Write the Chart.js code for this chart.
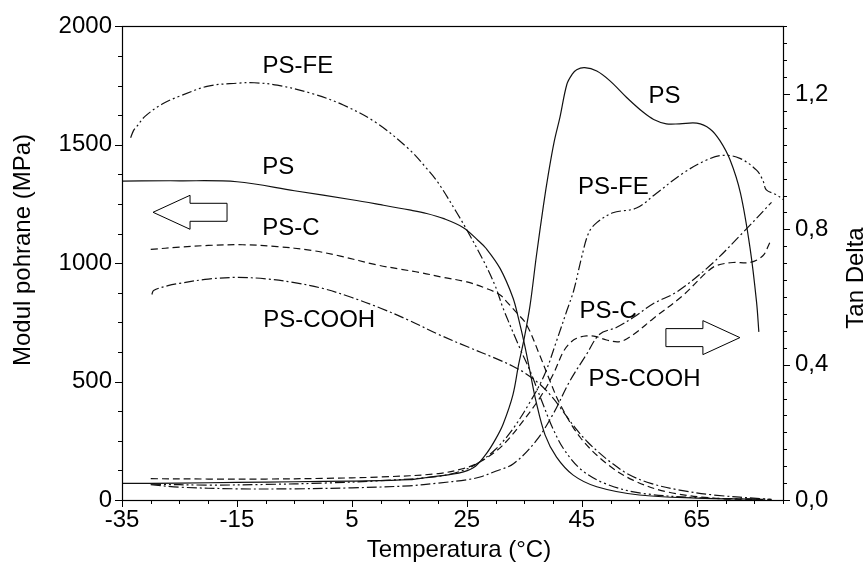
<!DOCTYPE html>
<html>
<head>
<meta charset="utf-8">
<script src="https://cdn.jsdelivr.net/npm/chart.js@4.4.1/dist/chart.umd.min.js"></script>
<style>
  html, body { margin: 0; padding: 0; background: #fff; }
  #wrap { width: 868px; height: 563px; }
</style>
</head>
<body>
<div id="wrap"><canvas id="chart" width="868" height="563"></canvas></div>
<script>
// storage modulus, left axis (MPa)
var psModT    = [-35, -25, -15, -5, 5, 10, 15, 18, 21, 24.4, 27, 28.4, 30.8, 33, 34, 35, 36, 37, 38.6, 40.6, 43.5, 47.6, 55, 65, 75.8];
var psModE    = [1347, 1348, 1344, 1306, 1268, 1247, 1225, 1210, 1188, 1150, 1095, 1061, 977, 855, 765, 660, 540, 420, 275, 181, 105, 56, 21, 8, 3];
var psfeModT  = [-33.5, -33, -32.5, -31, -28, -25, -20, -15, -12, -8, -2, 3.5, 9.3, 15, 18, 20, 23.2, 25, 28, 30, 31.3, 34.2, 36, 38, 40, 42, 45, 49, 55, 65, 78];
var psfeModE  = [1530, 1560, 1575, 1620, 1672, 1705, 1748, 1760, 1762, 1752, 1717, 1668, 1592, 1480, 1400, 1340, 1215, 1140, 1005, 900, 810, 642, 545, 420, 300, 210, 126, 70, 30, 10, 3];
var pscModT   = [-30, -25, -20, -14, -8, -2, 3, 9.3, 13.4, 17, 20.9, 25, 28.4, 30.8, 31.9, 33.7, 35.4, 37.7, 39.5, 41.2, 44.7, 49.3, 53.9, 59.7, 68.4, 78];
var pscModE   = [1058, 1068, 1075, 1078, 1070, 1054, 1030, 993, 975, 960, 940, 921, 893, 866, 838, 790, 740, 610, 500, 405, 265, 154, 84, 35, 7, 2];
var pscoohModT = [-29.8, -29.5, -27, -25, -20, -15, -10, -5, 0, 5, 10, 15, 20, 25, 30, 33, 35, 37.7, 40, 42, 44, 46, 48, 50, 53, 57, 62, 68, 77];
var pscoohModE = [868, 885, 905, 915, 933, 940, 934, 918, 893, 855, 810, 758, 700, 648, 598, 565, 538, 489, 430, 365, 300, 245, 200, 160, 110, 70, 42, 21, 4];

// tan delta, right axis
var psTanT    = [-35, -25, -15, -5, 5, 15, 18.6, 22, 24.4, 26.5, 28.4, 30, 31.3, 33, 34, 35, 36, 37.1, 38.3, 39.2, 40.2, 41.2, 42.4, 43.3, 44.1, 45.5, 47.6, 49.9, 52.8, 55.7, 57.5, 59.7, 62, 65, 67.3, 69, 70.8, 72.6, 74.3, 75.4, 75.8];
var psTanV    = [0.049, 0.05, 0.052, 0.054, 0.056, 0.06, 0.068, 0.075, 0.083, 0.1, 0.137, 0.18, 0.224, 0.31, 0.4, 0.48, 0.576, 0.722, 0.868, 0.966, 1.06, 1.132, 1.229, 1.258, 1.272, 1.278, 1.268, 1.239, 1.19, 1.146, 1.125, 1.112, 1.112, 1.114, 1.097, 1.063, 1.005, 0.907, 0.741, 0.585, 0.497];
var psfeTanT  = [-30, -20, -10, 0, 10, 20, 24.4, 27, 30, 33, 36, 38.5, 40.6, 42.4, 43.6, 45, 46.2, 47.6, 50.4, 54.5, 58, 62.6, 66.7, 69.6, 72.5, 75.4, 76.5, 77.1, 78.9, 80];
var psfeTanV  = [0.047, 0.044, 0.046, 0.05, 0.057, 0.07, 0.088, 0.11, 0.15, 0.21, 0.29, 0.37, 0.47, 0.56, 0.62, 0.72, 0.79, 0.82, 0.849, 0.863, 0.907, 0.966, 1.005, 1.019, 1.01, 0.975, 0.945, 0.917, 0.902, 0.888];
var pscTanT   = [-30, -20, -10, 0, 10, 20, 24.4, 27, 30.2, 32.5, 34.8, 37.7, 40, 41.8, 43, 44.1, 45.8, 47.5, 49.3, 51.6, 53.9, 57.4, 62.6, 66.7, 68.4, 71.3, 74.2, 76.5, 77.7];
var pscTanV   = [0.063, 0.062, 0.062, 0.064, 0.068, 0.078, 0.093, 0.11, 0.146, 0.185, 0.234, 0.302, 0.371, 0.439, 0.465, 0.478, 0.485, 0.483, 0.473, 0.468, 0.488, 0.536, 0.605, 0.673, 0.693, 0.702, 0.702, 0.722, 0.761];
var pscoohTanT = [-30, -25, -15, -5, 5, 15, 20, 25, 27.3, 30, 33.1, 37.1, 40, 42.9, 45.8, 48.1, 51, 54, 57.4, 61.5, 67.3, 73, 78];
var pscoohTanV = [0.045, 0.038, 0.033, 0.033, 0.036, 0.042, 0.05, 0.06, 0.068, 0.085, 0.107, 0.176, 0.254, 0.351, 0.43, 0.49, 0.51, 0.54, 0.58, 0.615, 0.693, 0.79, 0.88];

// curve labels (data coordinates)
var leftLabelText = ['PS-FE', 'PS', 'PS-C', 'PS-COOH'];
var leftLabelX    = [-4.4, -7.8, -5.6, -0.7];
var leftLabelY    = [1832, 1403, 1145, 758];
var rightLabelText = ['PS', 'PS-FE', 'PS-C', 'PS-COOH'];
var rightLabelX    = [59.4, 50.5, 49.6, 55.9];
var rightLabelY    = [1.194, 0.925, 0.559, 0.356];

var FONT = '"Liberation Sans", Arial, sans-serif';
Chart.defaults.font.family = FONT;
Chart.defaults.font.size = 24;
Chart.defaults.color = '#000';

function pts(xs, ys) {
  return xs.map(function(x, i) { return { x: x, y: ys[i] }; });
}

function line(label, xs, ys, axis, dash) {
  return {
    label: label,
    data: pts(xs, ys),
    yAxisID: axis,
    borderColor: '#111',
    borderWidth: 1.2,
    borderDash: dash,
    pointRadius: 0,
    fill: false,
    tension: 0.35
  };
}

var SOLID = [], DDOT = [10, 3, 2, 3, 2, 3], DASH = [7, 4], DDASH = [10, 3, 2, 3];

function isMajorX(v) { return (Math.round(v) + 35) % 20 === 0; }
function isMajorY(v) { return Math.round(v) % 500 === 0; }
function isMajorY2(v) { return Math.round(v * 100) % 40 === 0; }

function drawArrow(ctx, tipX, tipY, dir) {
  // dir: -1 points left, 1 points right
  var headLen = 37, shaftLen = 37, headH = 17, shaftH = 9;
  var bx = tipX - dir * headLen, ex = bx - dir * shaftLen;
  ctx.beginPath();
  ctx.moveTo(tipX, tipY);
  ctx.lineTo(bx, tipY - headH);
  ctx.lineTo(bx, tipY - shaftH);
  ctx.lineTo(ex, tipY - shaftH);
  ctx.lineTo(ex, tipY + shaftH);
  ctx.lineTo(bx, tipY + shaftH);
  ctx.lineTo(bx, tipY + headH);
  ctx.closePath();
  ctx.fillStyle = '#fff';
  ctx.fill();
  ctx.stroke();
}

var decor = {
  id: 'decor',
  afterDraw: function(chart) {
    var ctx = chart.ctx, a = chart.chartArea;
    var sx = chart.scales.x, sy = chart.scales.y, sy2 = chart.scales.y2;
    ctx.save();
    ctx.strokeStyle = '#000';
    ctx.lineWidth = 1.2;
    ctx.strokeRect(Math.round(a.left) + 0.5, Math.round(a.top) + 0.5, Math.round(a.right - a.left), Math.round(a.bottom - a.top));

    // tick marks
    ctx.lineWidth = 1;
    sx.ticks.forEach(function(t) {
      var p = Math.round(sx.getPixelForValue(t.value)) + 0.5;
      var len = isMajorX(t.value) ? 7 : 4;
      ctx.beginPath(); ctx.moveTo(p, a.bottom); ctx.lineTo(p, a.bottom + len); ctx.stroke();
    });
    sy.ticks.forEach(function(t) {
      var p = Math.round(sy.getPixelForValue(t.value)) + 0.5;
      var len = isMajorY(t.value) ? 7 : 4;
      ctx.beginPath(); ctx.moveTo(a.left, p); ctx.lineTo(a.left - len, p); ctx.stroke();
    });
    sy2.ticks.forEach(function(t) {
      var p = Math.round(sy2.getPixelForValue(t.value)) + 0.5;
      var len = isMajorY2(t.value) ? 7 : 4;
      ctx.beginPath(); ctx.moveTo(a.right, p); ctx.lineTo(a.right + len, p); ctx.stroke();
    });

    // curve labels
    ctx.fillStyle = '#000';
    ctx.font = '24px ' + FONT;
    ctx.textAlign = 'center';
    ctx.textBaseline = 'middle';
    leftLabelText.forEach(function(s, i) {
      ctx.fillText(s, sx.getPixelForValue(leftLabelX[i]), sy.getPixelForValue(leftLabelY[i]));
    });
    rightLabelText.forEach(function(s, i) {
      ctx.fillText(s, sx.getPixelForValue(rightLabelX[i]), sy2.getPixelForValue(rightLabelY[i]));
    });

    // arrows: which axis a curve group belongs to
    ctx.lineWidth = 1;
    drawArrow(ctx, sx.getPixelForValue(-29.6), sy.getPixelForValue(1215), -1);
    drawArrow(ctx, sx.getPixelForValue(72.5), sy2.getPixelForValue(0.48), 1);

    // axis titles
    ctx.fillStyle = '#000';
    ctx.save();
    ctx.translate(23, 250);
    ctx.rotate(-Math.PI / 2);
    ctx.fillText('Modul pohrane (MPa)', 0, 0);
    ctx.restore();
    ctx.save();
    ctx.translate(856, 278);
    ctx.rotate(-Math.PI / 2);
    ctx.fillText('Tan Delta', 0, 0);
    ctx.restore();
    ctx.fillText('Temperatura (°C)', 459, 550);
    ctx.restore();
  }
};

new Chart(document.getElementById('chart'), {
  type: 'line',
  data: {
    datasets: [
      line('PS', psModT, psModE, 'y', SOLID),
      line('PS-FE', psfeModT, psfeModE, 'y', DDOT),
      line('PS-C', pscModT, pscModE, 'y', DASH),
      line('PS-COOH', pscoohModT, pscoohModE, 'y', DDASH),
      line('PS tan', psTanT, psTanV, 'y2', SOLID),
      line('PS-FE tan', psfeTanT, psfeTanV, 'y2', DDOT),
      line('PS-C tan', pscTanT, pscTanV, 'y2', DASH),
      line('PS-COOH tan', pscoohTanT, pscoohTanV, 'y2', DDASH)
    ]
  },
  options: {
    responsive: false,
    devicePixelRatio: 1,
    animation: false,
    layout: { padding: { top: 22, left: 0, right: 0, bottom: 0 } },
    plugins: { legend: { display: false }, tooltip: { enabled: false } },
    scales: {
      x: {
        type: 'linear', position: 'bottom', min: -35, max: 80,
        afterFit: function(s) { s.height = 63; },
        grid: { display: false, drawTicks: false },
        border: { display: false },
        ticks: {
          stepSize: 5, autoSkip: false, maxRotation: 0, padding: 6,
          callback: function(v) { return isMajorX(v) ? String(Math.round(v)) : ''; }
        }
      },
      y: {
        type: 'linear', position: 'left', min: 0, max: 2000,
        afterFit: function(s) { s.width = 122; },
        grid: { display: false, drawTicks: false },
        border: { display: false },
        ticks: {
          stepSize: 125, autoSkip: false, padding: 10,
          callback: function(v) { return isMajorY(v) ? String(Math.round(v)) : ''; }
        }
      },
      y2: {
        type: 'linear', position: 'right', min: 0, max: 1.4,
        afterFit: function(s) { s.width = 85; },
        grid: { display: false, drawTicks: false },
        border: { display: false },
        ticks: {
          stepSize: 0.05, autoSkip: false, padding: 12,
          callback: function(v) { return isMajorY2(v) ? v.toFixed(1).replace('.', ',') : ''; }
        }
      }
    }
  },
  plugins: [decor]
});
</script>
</body>
</html>
